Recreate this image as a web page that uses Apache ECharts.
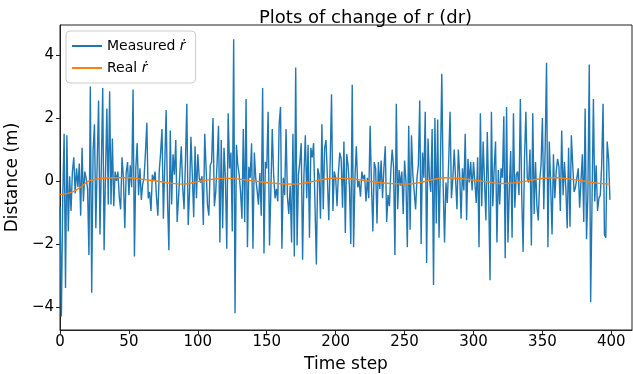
<!DOCTYPE html>
<html>
<head>
<meta charset="utf-8">
<script src="https://cdn.jsdelivr.net/npm/echarts@6/dist/echarts.min.js"></script>
<style>
  html, body { margin: 0; padding: 0; background: #fff; }
  #chart { width: 633px; height: 374px; }
</style>
</head>
<body>
<div id="chart"></div>
<script type="text/javascript">
// measured dr, one value per time step (0..399)
var measured = [
  -0.8, -4.3, -0.5, 1.5, -3.4, 1.45, -1.6, 0.15, -0.95, 0.3,
  0.75, -0.4, 0.4, -0.2, 0.55, -1.1, 1.05, -0.65, 0.3, 0.08,
  -0.25, -2.35, 3.0, -3.55, 0.95, 1.8, -1.5, 0.6, 2.55, -1.7,
  0.5, 2.95, -2.2, 0.2, 2.3, -0.75, 2.85, -0.75, 1.35, -0.8,
  0.3, 0.0, 0.3, -0.5, -0.9, 0.75, 0.1, -1.5, 0.25, 0.6,
  -0.45, 0.5, -0.2, 2.9, -2.4, 0.4, 1.2, -0.45, 0.4, -0.6,
  -0.1, 0.1, 0.9, 1.85, -0.55, -0.35, -0.95, 0.2, 0.0, 0.3,
  -0.5, -1.1, 0.3, 0.9, 1.65, -1.2, 0.5, 2.25, -0.6, -2.2,
  1.6, -0.75, 0.85, 0.2, 1.3, -1.3, -0.55, 0.3, 1.1, -0.2,
  -0.9, 0.6, 2.45, -1.4, -0.35, 1.4, 0.2, -1.15, 1.1, -0.55,
  0.85, 0.1, -0.05, 0.15, -1.4, 1.5, 0.4, -0.75, -1.1, 0.5,
  0.6, 2.0, -0.8, -0.35, 0.6, 1.75, -1.95, 1.3, -1.5, 1.05,
  0.1, -2.15, 2.15, 0.4, 0.9, -1.6, 4.5, -4.2, 1.15, 0.5,
  0.2, -0.35, -1.2, 1.65, -1.3, 2.6, -2.1, 0.45, 0.1, 1.2,
  -2.15, 0.9, 0.1, -0.3, -0.75, 0.25, -1.1, 2.95, -2.3, 0.6,
  0.4, 2.2, -2.05, -0.3, 1.65, 0.2, -0.55, -0.25, -0.65, 1.8,
  2.35, -2.15, 0.1, -0.45, 1.65, -0.5, -1.05, -0.15, -1.95, 1.5,
  -2.4, 3.6, -2.05, 0.2, 0.6, 1.2, -2.5, 0.2, 1.45, -0.55,
  1.15, -1.8, 1.05, 0.75, 1.2, -0.75, -2.65, 0.4, 0.2, -1.2,
  1.8, -0.9, 1.05, 1.3, 0.1, -1.25, 0.55, 2.75, -0.95, 0.3,
  0.1, -0.8, 0.25, 0.9, 0.7, -0.85, 1.25, -1.65, 0.85, 0.5,
  -0.2, -2.0, 3.05, -2.1, 0.1, 1.1, -0.2, 0.0, -0.5, 0.3,
  0.05, 0.2, -0.65, 0.1, -0.55, 1.75, -0.15, -1.6, 0.6, 0.4,
  -1.35, 0.6, -0.25, 0.65, -0.55, 0.4, 1.1, -1.3, -0.45, -0.8,
  0.3, 1.0, 0.45, -2.35, 2.45, -0.9, 0.35, -0.15, 0.3, -1.05,
  0.65, 0.0, -2.1, 1.75, -1.55, 1.45, 0.2, -0.35, -0.9, 0.1,
  0.5, 2.55, -2.0, 0.9, 0.1, 2.2, -2.6, 1.35, 0.1, -0.35,
  1.65, -3.3, 2.0, -1.35, 1.95, -1.8, 0.5, 3.4, -0.15, -1.95,
  -0.05, -0.7, 0.6, 2.2, -0.55, 0.05, 1.0, 0.05, -0.9, 1.0,
  0.2, -1.2, 0.4, -0.3, 1.5, -1.25, 0.7, -0.05, 0.6, -0.3,
  0.6, 0.55, -0.7, 0.75, -2.1, 2.15, -0.8, 1.25, 0.0, -1.25,
  1.55, -0.35, -3.15, 2.2, -0.8, 0.4, 1.25, -1.95, 0.35, -0.75,
  0.4, 0.1, 2.05, -2.45, 2.35, -1.95, -0.25, 0.95, -1.8, 2.15,
  -0.85, 0.2, 0.3, -0.45, 2.6, -0.5, -2.25, 0.7, 2.2, 0.1,
  -0.05, 1.0, -2.05, 2.15, -1.05, 0.6, -0.8, -1.25, 0.0, 0.5,
  2.0, -0.9, 1.05, 3.75, -2.1, 1.25, -0.15, -1.7, 0.85, -0.55,
  0.3, 0.7, 0.45, -0.95, 1.6, -0.45, 0.6, -0.25, -1.5, 1.05,
  -1.45, 1.45, 0.5, -0.35, -0.2, -0.15, 0.4, -0.85, 0.0, 0.85,
  -1.3, 2.3, -1.85, -0.4, 3.7, -3.85, -0.65, 2.6, -0.65, 0.5,
  -0.95, -0.55, -0.45, 0.5, 2.45, -1.7, -1.8, 1.25, 0.7, -0.6
];

// real dr, sampled steps and values
var realSteps = [0, 5, 10, 15, 20, 25, 30, 40, 50, 60, 70, 80, 90, 100, 110, 120, 130, 140, 150, 160,
  170, 180, 190, 200, 210, 220, 230, 240, 250, 260, 270, 280, 290, 300, 310, 320, 330, 340, 350, 360,
  370, 380, 390, 399];
var realValues = [-0.43, -0.4, -0.33, -0.2, -0.02, 0.05, 0.08, 0.1, 0.1, 0.05, 0.0, -0.07, -0.1, -0.02, 0.05, 0.09, 0.06, 0.0, -0.05, -0.09,
  -0.1, -0.05, 0.04, 0.09, 0.07, 0.02, -0.04, -0.08, -0.1, -0.06, 0.04, 0.1, 0.08, 0.03, -0.03, -0.08, -0.06, 0.01, 0.08, 0.1,
  0.06, 0.0, -0.07, -0.1];

var xTicks = [0, 50, 100, 150, 200, 250, 300, 350, 400];
var yTicks = [-4, -2, 0, 2, 4];

var font = 'DejaVu Sans';

var measuredData = [];
for (var i = 0; i < measured.length; i++) {
	measuredData.push([i, measured[i]]);
}
var realData = [];
for (var i = 0; i < realSteps.length; i++) {
	realData.push([realSteps[i], realValues[i]]);
}

// matplotlib style minus sign
function tickText(v) {
	return String(v).replace('-', '\u2212');
}

var chart = echarts.init(document.getElementById('chart'), null, {renderer: 'canvas'});
chart.setOption({
	animation: false,
	backgroundColor: '#fff',
	title: {
		text: 'Plots of change of r (dr)',
		left: 254,
		top: 4,
		textStyle: {fontFamily: font, fontSize: 18, fontWeight: 'normal', color: '#000'}
	},
	legend: {
		left: 66,
		top: 31,
		orient: 'vertical',
		itemGap: 8,
		itemWidth: 30,
		itemHeight: 2,
		icon: 'rect',
		padding: [8, 10, 8, 6],
		backgroundColor: 'rgba(255,255,255,0.8)',
		borderColor: '#ccc',
		borderWidth: 1,
		borderRadius: 4,
		textStyle: {
			fontFamily: font, fontSize: 14, color: '#000',
			rich: {i: {fontFamily: font, fontSize: 14, fontStyle: 'italic', color: '#000'}}
		},
		formatter: function (name) {
			return name.replace('ṙ', '{i|ṙ}');
		},
		data: ['Measured ṙ', 'Real ṙ']
	},
	grid: {
		left: 60, right: 1, top: 25, bottom: 44,
		outerBoundsMode: 'none',
		containLabel: false,
		show: true, borderColor: '#222', borderWidth: 1
	},
	xAxis: {
		type: 'value',
		min: 0,
		max: 415,
		name: 'Time step',
		nameLocation: 'middle',
		nameGap: 26,
		nameTextStyle: {fontFamily: font, fontSize: 17, color: '#000'},
		axisLine: {show: true, onZero: false, lineStyle: {color: '#222'}},
		axisTick: {show: true, length: 4, customValues: xTicks, lineStyle: {color: '#222'}},
		axisLabel: {customValues: xTicks, fontFamily: font, fontSize: 15, color: '#000', margin: 5},
		splitLine: {show: false}
	},
	yAxis: {
		type: 'value',
		min: -4.73,
		max: 4.95,
		name: 'Distance (m)',
		nameLocation: 'middle',
		nameGap: 32,
		nameTextStyle: {fontFamily: font, fontSize: 17, color: '#000'},
		axisLine: {show: true, onZero: false, lineStyle: {color: '#222'}},
		axisTick: {show: true, length: 4, customValues: yTicks, lineStyle: {color: '#222'}},
		axisLabel: {customValues: yTicks, formatter: tickText, fontFamily: font, fontSize: 15, color: '#000', margin: 6},
		splitLine: {show: false}
	},
	series: [
		{
			name: 'Measured ṙ',
			type: 'line',
			data: measuredData,
			showSymbol: false,
			color: '#1f77b4',
			lineStyle: {width: 1.4, color: '#1f77b4'},
			z: 2
		},
		{
			name: 'Real ṙ',
			type: 'line',
			data: realData,
			smooth: 0.4,
			showSymbol: false,
			color: '#ff7f0e',
			lineStyle: {width: 1.4, color: '#ff7f0e'},
			z: 3
		}
	]
});
</script>
</body>
</html>
